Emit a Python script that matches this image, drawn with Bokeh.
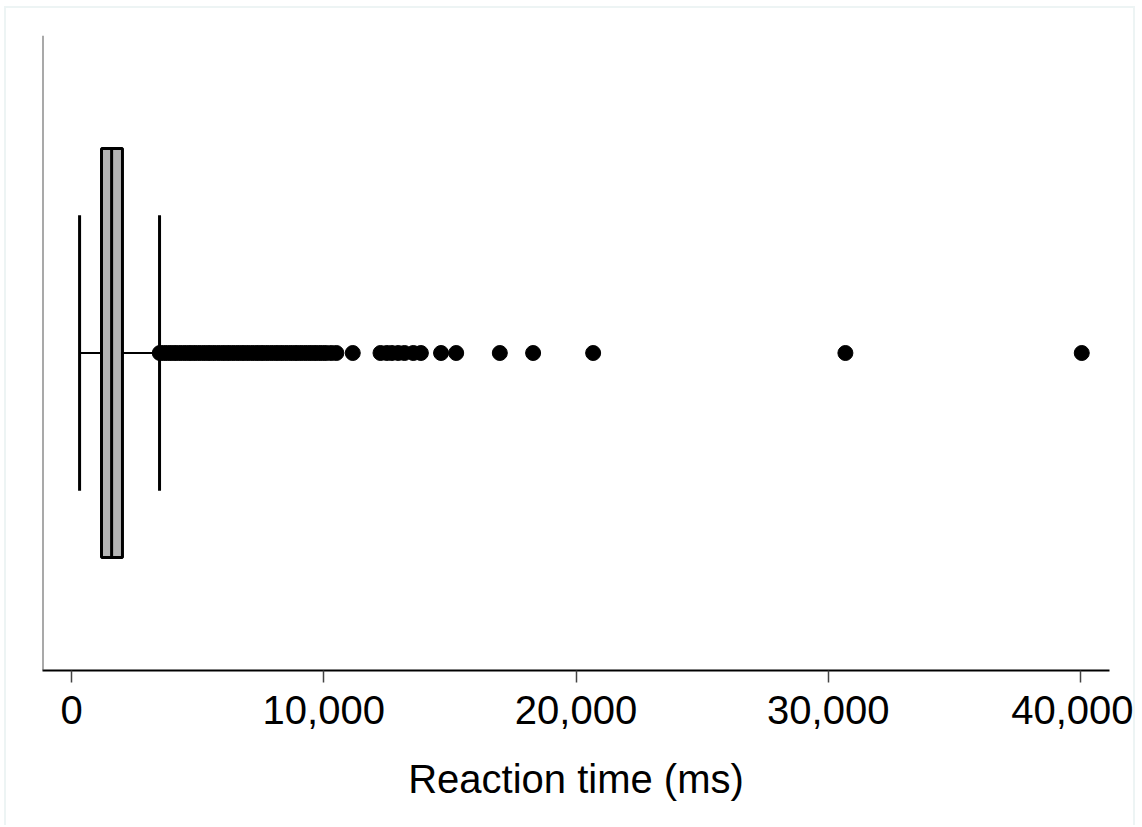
from bokeh.plotting import figure
from bokeh.models import Range1d, FixedTicker, NumeralTickFormatter, Span
from bokeh.embed import file_html
from bokeh.resources import INLINE

# Box-plot summary (ms)
q1 = 1190
median = 1590
q3 = 2020
whisker_low = 320
whisker_high = 3490

# Outliers (ms)
outliers = [
    3500, 3650, 3800, 3950, 4100, 4250, 4400, 4550, 4700, 4850, 5000, 5150,
    5300, 5450, 5600, 5750, 5900, 6050, 6200, 6350, 6500, 6650, 6800, 6950,
    7100, 7250, 7400, 7550, 7700, 7850, 8000, 8150, 8300, 8450, 8600, 8750,
    8900, 9050, 9200, 9350, 9500, 9650, 9800, 9950, 10100, 10300, 10500,
    11150, 12250, 12500, 12700, 12950, 13200, 13550, 13850, 14650, 15250,
    16980, 18300, 20680, 30680, 40050,
]

x_ticks = [0, 10000, 20000, 30000, 40000]
x_label = "Reaction time (ms)"

font = "Liberation Sans"

p = figure(width=1131, height=819, output_backend="svg", toolbar_location=None,
           x_range=Range1d(-1150, 41150), y_range=Range1d(0, 1))
p.min_border_left = 36
p.min_border_right = 28
p.min_border_top = 27
p.min_border_bottom = 157
p.outline_line_color = None
p.grid.visible = False
p.background_fill_color = "white"
p.border_fill_color = "white"
p.styles = {"margin-left": "4px", "margin-top": "6px",
            "border-left": "2px solid #edf4f4", "border-top": "2px solid #edf4f4",
            "border-right": "2px solid #edf4f4"}

p.yaxis.visible = False
p.add_layout(Span(location=-1150, dimension="height", line_color="#555555", line_width=2))

xa = p.xaxis[0]
xa.ticker = FixedTicker(ticks=x_ticks)
xa.formatter = NumeralTickFormatter(format="0,0")
xa.minor_tick_line_color = None
xa.major_tick_out = 12
xa.major_tick_in = 0
xa.major_tick_line_color = "#444444"
xa.major_tick_line_width = 1.5
xa.axis_line_color = "black"
xa.axis_line_width = 2
xa.major_label_text_font = font
xa.major_label_text_font_size = "40px"
xa.major_label_text_color = "black"
xa.major_label_standoff = 13
xa.axis_label = x_label
xa.axis_label_text_font = font
xa.axis_label_text_font_size = "40px"
xa.axis_label_text_font_style = "normal"
xa.axis_label_text_color = "black"
xa.axis_label_standoff = 30

yc = 0.5
# whiskers
p.segment(x0=[whisker_low, q3], y0=[yc, yc], x1=[q1, whisker_high], y1=[yc, yc],
          line_color="black", line_width=2)
p.segment(x0=[whisker_low, whisker_high], y0=[0.283, 0.283],
          x1=[whisker_low, whisker_high], y1=[0.717, 0.717],
          line_color="black", line_width=3)
# box
p.quad(left=[q1], right=[q3], bottom=[0.178], top=[0.822],
       fill_color="#b4b4b4", line_color="black", line_width=3)
p.segment(x0=[median], y0=[0.178], x1=[median], y1=[0.822], line_color="black", line_width=3)
# outliers
p.scatter(x=outliers, y=[yc] * len(outliers), size=15, fill_color="black", line_color="black")

open("out.html", "w").write(file_html(p, INLINE))
